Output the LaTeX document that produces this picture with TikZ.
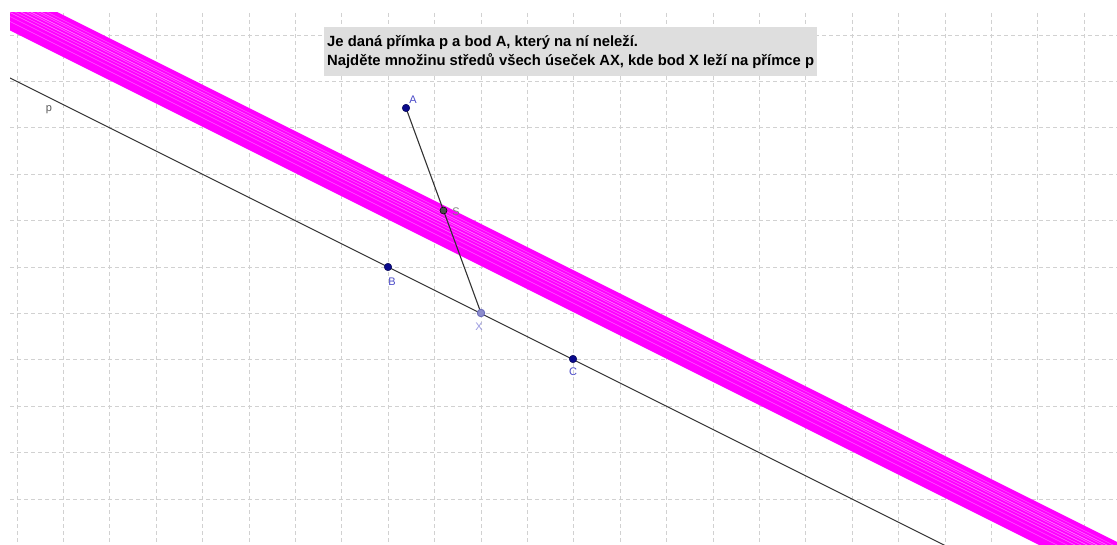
\documentclass[tikz,border=0pt]{standalone}
\usepackage{fontspec}
\setmainfont{Liberation Sans}
\definecolor{ptnavy}{HTML}{0A0A8C}
\definecolor{lblblue}{HTML}{4A4AC8}
\definecolor{bandmag}{HTML}{FF00FF}
\definecolor{boxgray}{HTML}{DEDEDE}
\definecolor{linegray}{HTML}{333333}
\definecolor{xfill}{HTML}{8C8CCC}
\definecolor{xlbl}{HTML}{9A9AE0}
\begin{document}
\begin{tikzpicture}[x=1pt,y=-1pt,
  gridline/.style={draw=black!18, line width=0.8pt, dash pattern=on 4pt off 3pt},
  geoline/.style={draw=linegray, line width=1.1pt},
  ptblue/.style={circle, fill=ptnavy, draw=ptnavy!60!black, line width=0.5pt, inner sep=0pt, minimum size=7.5pt},
  ptdark/.style={circle, fill=black!70, draw=black, line width=0.5pt, inner sep=0pt, minimum size=7pt},
  ptfree/.style={circle, fill=xfill, draw=ptnavy!60, line width=0.9pt, inner sep=0pt, minimum size=7.5pt},
  ptlabel/.style={font=\fontsize{11}{13}\selectfont, inner sep=0pt},
  streak/.style={draw=white, line width=0.5pt},
  headtext/.style={font=\fontsize{14.8}{17}\selectfont\bfseries, anchor=base west, inner sep=0pt}
]
\useasboundingbox (0,0) rectangle (1117,545);
\fill[white] (0,0) rectangle (1117,545);
% named geometry
\coordinate (A) at (406,108);
\coordinate (B) at (388,267);
\coordinate (X) at (481,313);
\coordinate (C) at (573,359);
\coordinate (S) at (443.5,210.5);
\coordinate (pL) at (-50,48);
\coordinate (pR) at (1200,673);
\begin{scope}
  \clip (10,13) rectangle (1117,545);
  % grid
  \foreach \k in {0,...,23} \draw[gridline] ({17+46.4*\k},13) -- ({17+46.4*\k},545);
  \foreach \k in {0,...,11} \draw[gridline] (10,{35+46.4*\k}) -- (1117,{35+46.4*\k});
  % locus band
  \fill[bandmag] (-50,-41.5) -- (1200,583.5) -- (1200,625.5) -- (-50,0.5) -- cycle;
  \foreach \o/\op in {5/0.3,8/0.5,10/0.35,13/0.6,15/0.4,18/0.55,21/0.35,24/0.45,28/0.3,33/0.35}
    \draw[streak, opacity=\op] (-50,{-41.5+\o}) -- (1200,{583.5+\o});
  % line p
  \draw[geoline] (pL) -- (pR);
\end{scope}
% segment AX
\draw[geoline] (A) -- (X);
% points
\node[ptblue] (nA) at (A) {};
\node[ptblue] (nB) at (B) {};
\node[ptblue] (nC) at (C) {};
\node[ptfree] (nX) at (X) {};
\node[ptdark] (nS) at (S) {};
% labels
\node[ptlabel, text=lblblue] (lA) at (413,99.5) {A};
\node[ptlabel, text=black!50] (lS) at (456,212) {S};
\node[ptlabel, text=lblblue] (lB) at (392,282) {B};
\node[ptlabel, text=xlbl] (lX) at (479,327) {X};
\node[ptlabel, text=lblblue] (lC) at (573,372) {C};
\node[ptlabel, text=black!65] (lp) at (49,110) {p};
% text box
\fill[boxgray] (324,27) rectangle (817,76);
\node[headtext] (t1) at (327,47) {Je daná přímka p a bod A, který na ní neleží.};
\node[headtext] (t2) at (327,66) {Najděte množinu středů všech úseček AX, kde bod X leží na přímce p};
\end{tikzpicture}
\end{document}
